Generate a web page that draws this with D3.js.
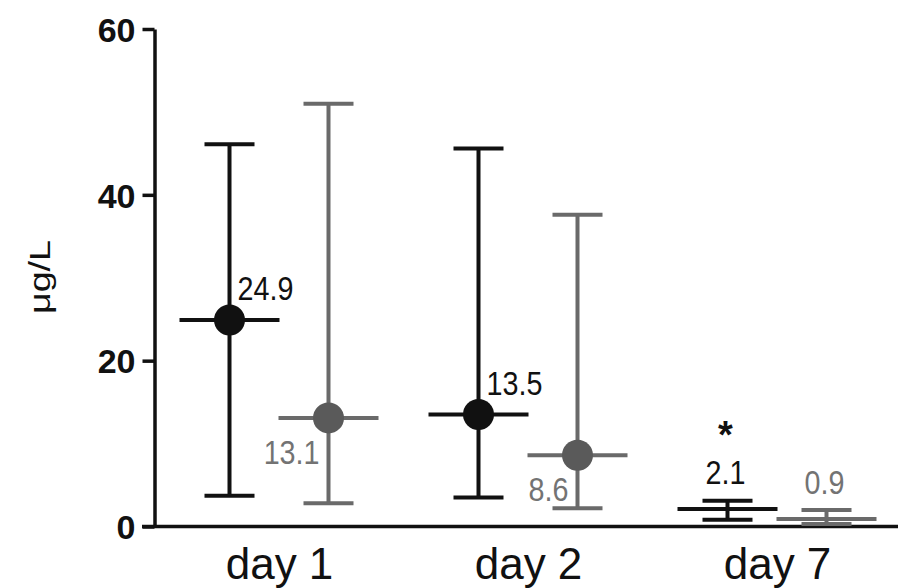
<!DOCTYPE html>
<html>
<head>
<meta charset="utf-8">
<script src="https://cdn.jsdelivr.net/npm/d3@7"></script>
<style>
  body { margin: 0; background: #fff; }
  svg { display: block; font-family: Arial, "Liberation Sans", sans-serif; }
</style>
</head>
<body>
<script>
// groups on the x axis
const days = ['day 1', 'day 2', 'day 7'];

// black series (mean + range)
const blackMean = [24.9, 13.5, 2.1];
const blackLow = [3.7, 3.5, 0.8];
const blackHigh = [46.1, 45.6, 3.1];

// gray series
const grayMean = [13.1, 8.6, 0.9];
const grayLow = [2.8, 2.2, 0.3];
const grayHigh = [51.0, 37.6, 2.0];

// dot drawn or not, label side, significance mark
const dotShown = [true, true, false];
const blackLabelSide = ['right', 'right', 'top'];
const grayLabelSide = ['left', 'left', 'top'];
const sigMarks = ['', '', '*'];

const yTicks = [0, 20, 40, 60];
const yTitle = 'μg/L';

let width = 898,
    height = 588;

let svg = d3.select('body')
    .append('svg')
    .attr('width', width)
    .attr('height', height);

svg.append('rect')
    .attr('width', width)
    .attr('height', height)
    .attr('fill', '#fff');

// scales
let y = d3.scaleLinear()
    .domain([0, 60])
    .range([526.5, 29]);

let x = d3.scalePoint()
    .domain(days)
    .range([279, 777]);

const off = 49.5;
const black = '#111';
const gray = '#6a6a6a';
const grayDot = '#5a5a5a';
const grayText = '#737373';

// Y axis
let yAxis = d3.axisLeft(y)
    .tickValues(yTicks)
    .tickSize(12)
    .tickPadding(7)
    .tickSizeOuter(0);

let gy = svg.append('g')
    .attr('transform', 'translate(154.5,0)')
    .call(yAxis);
gy.select('.domain').attr('stroke', black).attr('stroke-width', 3.5);
gy.selectAll('.tick line').attr('stroke', black).attr('stroke-width', 3.5);
gy.selectAll('.tick text')
    .attr('fill', black)
    .style('font-size', '34px')
    .style('font-weight', 'bold')
    .attr('dy', '0.36em');

// X axis: labels from axis, long baseline drawn by hand
let xAxis = d3.axisBottom(x)
    .tickSize(0)
    .tickPadding(21);

let gx = svg.append('g')
    .attr('transform', 'translate(0,' + y(0) + ')')
    .call(xAxis);
gx.select('.domain').remove();
gx.selectAll('.tick text')
    .attr('fill', black)
    .style('font-size', '44px');

svg.append('line')
    .attr('x1', 142)
    .attr('x2', width)
    .attr('y1', y(0))
    .attr('y2', y(0))
    .attr('stroke', black)
    .attr('stroke-width', 3.5);

// y title (stretched along its baseline like the picture)
svg.append('g')
    .attr('transform', 'translate(50,277) rotate(-90) scale(1.3,1)')
    .append('text')
    .attr('text-anchor', 'middle')
    .attr('fill', black)
    .style('font-size', '29px')
    .text(yTitle);

function drawSeries(means, lows, highs, dx, color, dotColor, txtColor, sides) {
    days.forEach(function (d, i) {
        let cx = x(d) + dx;
        let g = svg.append('g');
        // vertical range
        g.append('line')
            .attr('x1', cx).attr('x2', cx)
            .attr('y1', y(lows[i])).attr('y2', y(highs[i]))
            .attr('stroke', color).attr('stroke-width', 4);
        // caps
        [lows[i], highs[i]].forEach(function (v) {
            g.append('line')
                .attr('x1', cx - 25).attr('x2', cx + 25)
                .attr('y1', y(v)).attr('y2', y(v))
                .attr('stroke', color).attr('stroke-width', 4);
        });
        // mean line
        g.append('line')
            .attr('x1', cx - 50).attr('x2', cx + 50)
            .attr('y1', y(means[i])).attr('y2', y(means[i]))
            .attr('stroke', color).attr('stroke-width', 4);
        if (dotShown[i]) {
            g.append('circle')
                .attr('cx', cx)
                .attr('cy', y(means[i]))
                .attr('r', 15.5)
                .attr('fill', dotColor);
        }
        // value label
        let tx, ty, anchor;
        if (sides[i] === 'right') { tx = cx + 8; ty = y(means[i]) - 20; anchor = 'start'; }
        else if (sides[i] === 'left') { tx = cx - 9; ty = y(means[i]) + 46; anchor = 'end'; }
        else { tx = cx - 2; ty = y(means[i]) - 25; anchor = 'middle'; }
        g.append('g')
            .attr('transform', 'translate(' + tx + ',' + ty + ') scale(0.87,1)')
            .append('text')
            .attr('text-anchor', anchor)
            .attr('fill', txtColor)
            .style('font-size', '33px')
            .text(d3.format('.1f')(means[i]));
    });
}

drawSeries(blackMean, blackLow, blackHigh, -off, black, black, black, blackLabelSide);
drawSeries(grayMean, grayLow, grayHigh, off, gray, grayDot, grayText, grayLabelSide);

// significance marks above black series
days.forEach(function (d, i) {
    if (!sigMarks[i]) return;
    svg.append('text')
        .attr('x', x(d) - off - 2)
        .attr('y', y(blackHigh[i]) - 53)
        .attr('text-anchor', 'middle')
        .attr('fill', black)
        .style('font-size', '38px')
        .style('font-weight', 'bold')
        .text(sigMarks[i]);
});
</script>
</body>
</html>
